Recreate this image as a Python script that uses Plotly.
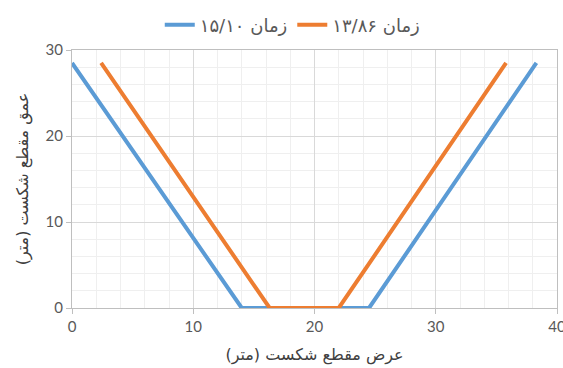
import plotly.graph_objects as go

blue_x = [0, 14.0, 24.5, 38.3]
blue_y = [28.5, 0, 0, 28.5]
orange_x = [2.4, 16.3, 22.0, 35.8]
orange_y = [28.5, 0, 0, 28.5]
blue_name = "زمان ۱۵/۱۰"
orange_name = "زمان ۱۳/۸۶"
x_title = "عرض مقطع شکست (متر)"
y_title = "عمق مقطع شکست (متر)"

font_fam = "DejaVu Sans, Noto Sans, sans-serif"
tick_fam = "Lato, Open Sans, sans-serif"

fig = go.Figure()
fig.add_trace(go.Scatter(x=blue_x, y=blue_y, mode="lines", name=blue_name,
                         line=dict(color="#5B9BD5", width=4)))
fig.add_trace(go.Scatter(x=orange_x, y=orange_y, mode="lines", name=orange_name,
                         line=dict(color="#ED7D31", width=4)))

axis_common = dict(
    showgrid=True, gridcolor="#d9d9d9", gridwidth=1,
    minor=dict(showgrid=True, gridcolor="#efefef", gridwidth=1, dtick=2),
    showline=True, linecolor="#bfbfbf", linewidth=1, mirror=True,
    zeroline=False, automargin=False, ticklabeloverflow="allow",
    ticks="outside", ticklen=5, tickcolor="#bfbfbf",
    tickfont=dict(family=tick_fam, size=15, color="#595959"),
)

fig.update_xaxes(range=[0, 40.0001], tickvals=[0, 10, 20, 30, 40], **axis_common,
                 title=dict(text=x_title, font=dict(family=font_fam, size=16, color="#404040"), standoff=14))
fig.update_yaxes(range=[0, 30.0001], tickvals=[0, 10, 20, 30], **axis_common,
                 title=dict(text=y_title, font=dict(family=font_fam, size=16, color="#404040"), standoff=12))

fig.update_layout(
    width=563, height=368,
    margin=dict(l=72, r=6, t=50, b=60),
    paper_bgcolor="white", plot_bgcolor="white",
    legend=dict(orientation="h", x=0.52, xanchor="center", xref="container",
                y=0.932, yanchor="middle", yref="container",
                font=dict(family=font_fam, size=18, color="#595959")),
    font=dict(family=font_fam),
)

fig.write_html("out.html", config={"displayModeBar": False},
               post_script="document.body.style.margin='0';document.body.style.overflow='hidden';")
